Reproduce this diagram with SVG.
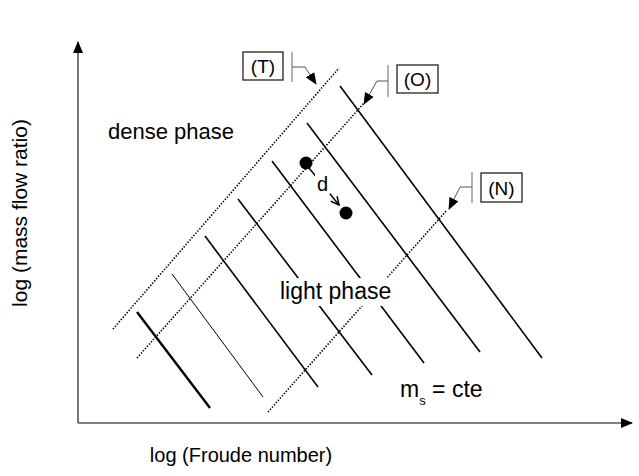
<svg xmlns="http://www.w3.org/2000/svg" width="639" height="476" viewBox="0 0 639 476">
<defs>
<style>
text{font-family:"Liberation Sans",Arial,sans-serif;fill:#000}
.iso{stroke:#000;stroke-width:1.6;fill:none;stroke-linecap:butt}
.dot{stroke:#000;stroke-width:1.6;stroke-dasharray:1.4 1.6;fill:none}
.brk{stroke:#666;stroke-width:1;fill:none}
.lead{stroke:#555;stroke-width:1;fill:none}
.box{fill:#fff;stroke:#222;stroke-width:1.3}
.ax{stroke:#777;stroke-width:2;fill:none}
</style>
<marker id="ah" viewBox="0 0 12 10" refX="11" refY="5" markerWidth="12" markerHeight="10" markerUnits="userSpaceOnUse" orient="auto"><path d="M0,0 L12,5 L0,10 Z" fill="#000"/></marker>
<marker id="ax" viewBox="0 0 12 10" refX="11" refY="5" markerWidth="12" markerHeight="10" markerUnits="userSpaceOnUse" orient="auto"><path d="M0,0 L12,5 L0,10 Z" fill="#000"/></marker>
<marker id="chev" viewBox="0 0 10 10" refX="9" refY="5" markerWidth="10" markerHeight="10" markerUnits="userSpaceOnUse" orient="auto"><path d="M1,1 L9,5 L1,9" fill="none" stroke="#000" stroke-width="1.5"/></marker>
</defs>
<rect width="639" height="476" fill="#fff"/>
<g id="axes">
<line class="ax" x1="78" y1="423" x2="78" y2="42" marker-end="url(#ax)"/>
<line class="ax" x1="78" y1="423" x2="632" y2="423" marker-end="url(#ax)" style="stroke:#555;stroke-width:1.5"/>
<text x="27" y="213" font-size="21" text-anchor="middle" transform="rotate(-90 27 213)">log (mass flow ratio)</text>
<text x="241" y="462" font-size="20" text-anchor="middle">log (Froude number)</text>
</g>
<g id="connectors">
<line class="iso" x1="137" y1="312" x2="210" y2="408" style="stroke-width:2.4"/>
<line class="iso" x1="172" y1="274" x2="263" y2="397" style="stroke-width:1"/>
<line class="iso" x1="205" y1="236" x2="318" y2="387"/>
<line class="iso" x1="238" y1="199" x2="372" y2="375"/>
<line class="iso" x1="272" y1="161" x2="424" y2="363"/>
<line class="iso" x1="307" y1="123" x2="480" y2="352"/>
<line class="iso" x1="340" y1="86" x2="542" y2="358"/>
<line class="dot" x1="113" y1="329" x2="339" y2="68"/>
<line class="dot" x1="137" y1="358" x2="365" y2="102"/>
<line class="dot" x1="268" y1="412" x2="447" y2="210"/>
<polyline class="lead" points="292,67 305,67 316,84" marker-end="url(#ah)"/>
<polyline class="lead" points="388,81 377,81 364,104" marker-end="url(#ah)"/>
<polyline class="lead" points="472,187 460,187 449,209" marker-end="url(#ah)"/>
<line x1="309" y1="168" x2="339" y2="205" stroke="#000" stroke-width="1.4" marker-end="url(#chev)"/>
</g>
<g id="label-T">
<rect class="box" x="243" y="52" width="40" height="28"/>
<line class="brk" x1="292" y1="52" x2="292" y2="82"/>
<text x="263" y="73" font-size="19" text-anchor="middle">(T)</text>
</g>
<g id="label-O">
<rect class="box" x="397" y="65" width="41" height="28"/>
<line class="brk" x1="388" y1="65" x2="388" y2="97"/>
<text x="417.5" y="86" font-size="19" text-anchor="middle">(O)</text>
</g>
<g id="label-N">
<rect class="box" x="481" y="173" width="41" height="29"/>
<line class="brk" x1="472" y1="172" x2="472" y2="203"/>
<text x="501.5" y="195" font-size="19" text-anchor="middle">(N)</text>
</g>
<g id="dense-phase">
<text x="108" y="139" font-size="22">dense phase</text>
</g>
<g id="light-phase">
<rect x="276" y="278" width="120" height="28" fill="#fff"/>
<text x="280" y="299" font-size="23">light phase</text>
</g>
<g id="points">
<circle cx="306" cy="163" r="6.5" fill="#000"/>
<circle cx="346" cy="213" r="6.5" fill="#000"/>
<rect x="315" y="174" width="15" height="20" fill="#fff"/>
<text x="317" y="191" font-size="20">d</text>
</g>
<g id="ms-cte">
<text x="400" y="397" font-size="23">m<tspan font-size="13" dy="8">s</tspan><tspan dy="-8"> = cte</tspan></text>
</g>
</svg>
